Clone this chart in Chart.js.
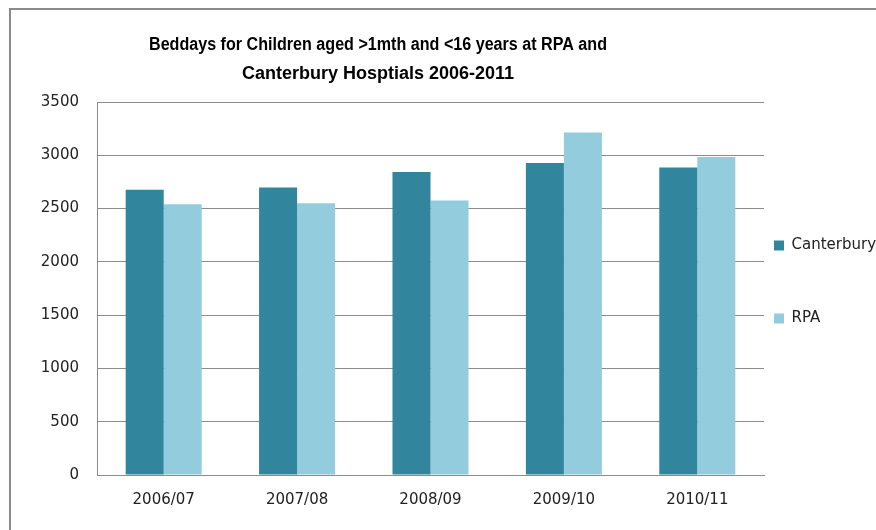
<!DOCTYPE html>
<html>
<head>
<meta charset="utf-8">
<script src="https://cdn.jsdelivr.net/npm/chart.js@4.4.1/dist/chart.umd.min.js"></script>
<style>
html, body { margin: 0; padding: 0; overflow: hidden; background: #fff; }
#frame { position: absolute; left: 9px; top: 8px; width: 900px; height: 560px; border: 2px solid #8a8a8a; }
#wrap { position: absolute; left: 0; top: 0; width: 876px; height: 530px; }
</style>
</head>
<body>
<div id="frame"></div>
<div id="wrap"><canvas id="chart" width="876" height="530"></canvas></div>
<script>
const years = ["2006/07", "2007/08", "2008/09", "2009/10", "2010/11"];
const canterbury = [2676, 2697, 2842, 2927, 2885];
const rpa = [2541, 2551, 2575, 3214, 2983];
const seriesNames = ["Canterbury", "RPA"];
const titleLines = [
    "Beddays for Children aged >1mth and <16 years at RPA and",
    "Canterbury Hosptials 2006-2011"
];

const tickFont = { family: "'DejaVu Sans', Verdana, sans-serif", size: 15 };

// title sits off-centre in the original, so draw it by hand
const titlePlugin = {
    id: "excelTitle",
    afterDraw(chart) {
        const ctx = chart.ctx;
        ctx.save();
        ctx.font = "bold 18px 'Liberation Sans Narrow', 'Liberation Sans', sans-serif";
        ctx.fillStyle = "#000";
        ctx.textAlign = "center";
        ctx.textBaseline = "middle";
        titleLines.forEach(function(line, i){
            ctx.fillText(line, 378, 45 + i * 29, 458);
        });
        ctx.restore();
    }
};

new Chart(document.getElementById("chart"), {
    type: "bar",
    data: {
        labels: years,
        datasets: [{
            label: seriesNames[0],
            data: canterbury,
            backgroundColor: "#31859c",
            borderWidth: 0
        }, {
            label: seriesNames[1],
            data: rpa,
            backgroundColor: "#93cddd",
            borderWidth: 0
        }]
    },
    options: {
        responsive: false,
        animation: false,
        devicePixelRatio: 1,
        layout: { padding: { top: 102, left: 41, right: 0, bottom: 5 } },
        datasets: { bar: { categoryPercentage: 0.57, barPercentage: 1 } },
        scales: {
            x: {
                grid: { display: false, drawTicks: false },
                border: { display: true, color: "#8c8c8c", width: 1 },
                ticks: { color: "#222", font: tickFont, padding: 16, maxRotation: 0 }
            },
            y: {
                min: 0,
                max: 3500,
                afterFit: function(scale){ scale.width = 56; },
                grid: { color: "#8c8c8c", drawTicks: false },
                border: { display: true, color: "#8c8c8c", width: 1 },
                ticks: {
                    stepSize: 500,
                    color: "#222",
                    font: tickFont,
                    padding: 18,
                    callback: function(v){ return String(v); }
                }
            }
        },
        plugins: {
            tooltip: { enabled: false },
            legend: {
                position: "right",
                fullSize: false,
                maxWidth: 112,
                title: { display: true, text: " ", font: { size: 15 }, padding: { top: 9, bottom: 8 } },
                labels: {
                    boxWidth: 10,
                    boxHeight: 10,
                    padding: 10,
                    color: "#222",
                    font: { family: "'DejaVu Sans', Verdana, sans-serif", size: 15, lineHeight: 1.05 },
                    // empty extra lines give the wide Excel spacing between entries
                    generateLabels: function(chart){
                        const items = Chart.defaults.plugins.legend.labels.generateLabels(chart);
                        items.forEach(function(it){ it.text = [it.text, "", "", ""]; it.lineWidth = 0; });
                        return items;
                    }
                }
            }
        }
    },
    plugins: [titlePlugin]
});
</script>
</body>
</html>
